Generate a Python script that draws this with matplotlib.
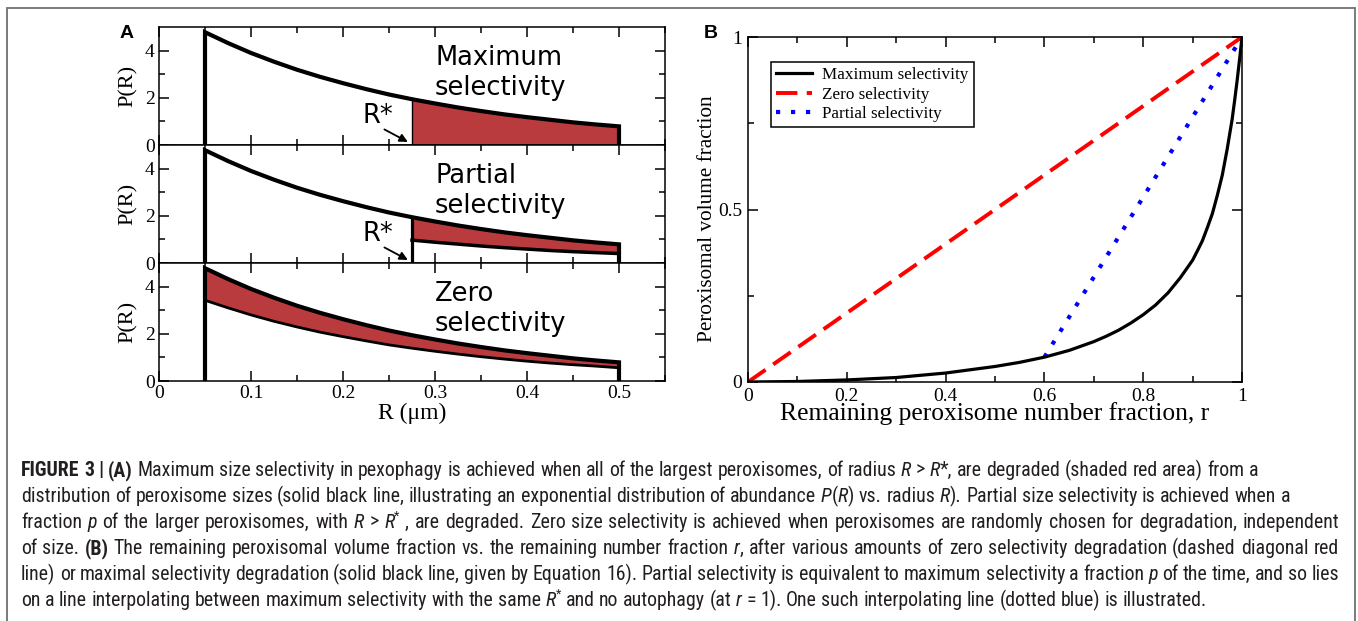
import os
import re
import matplotlib
matplotlib.use('Agg')
import matplotlib.pyplot as plt
from matplotlib import font_manager
from matplotlib.font_manager import FontProperties
from matplotlib.patches import Rectangle

W, H, DPI = 1358, 621, 100

# ---------------- Panel A data ----------------
R_vals = [0.05, 0.075, 0.1, 0.125, 0.15, 0.175, 0.2, 0.225, 0.25, 0.275,
          0.3, 0.325, 0.35, 0.375, 0.4, 0.425, 0.45, 0.475, 0.5]
P_vals = [4.78, 4.32, 3.90, 3.53, 3.19, 2.89, 2.62, 2.37, 2.14, 1.94,
          1.76, 1.59, 1.44, 1.30, 1.18, 1.07, 0.96, 0.87, 0.79]
R_star = 0.275
partial_lower = [0.97, 0.88, 0.80, 0.72, 0.65, 0.59, 0.53, 0.48, 0.44, 0.40]
zero_lower = [3.42, 3.10, 2.80, 2.53, 2.29, 2.07, 1.88, 1.70, 1.53, 1.39,
              1.26, 1.14, 1.03, 0.93, 0.84, 0.76, 0.69, 0.63, 0.56]
panelA_titles = ["Maximum\nselectivity", "Partial\nselectivity", "Zero\nselectivity"]
xticks_A = [0, 0.1, 0.2, 0.3, 0.4, 0.5]
xticklabels_A = ["0", "0.1", "0.2", "0.3", "0.4", "0.5"]
yticks_A = [0, 2, 4]
yticklabels_A = ["0", "2", "4"]

# ---------------- Panel B data ----------------
r_vals = [0.0, 0.1, 0.2, 0.3, 0.4, 0.5, 0.55, 0.6, 0.65, 0.7, 0.725, 0.75,
          0.775, 0.8, 0.825, 0.85, 0.875, 0.9, 0.91, 0.92, 0.93, 0.94, 0.95,
          0.96, 0.97, 0.98, 0.985, 0.99, 0.995, 1.0]
vmax_vals = [0.0, 0.0015, 0.006, 0.013, 0.026, 0.045, 0.057, 0.072, 0.0915,
             0.117, 0.1325, 0.150, 0.171, 0.195, 0.223, 0.258, 0.302, 0.353,
             0.381, 0.410, 0.448, 0.488, 0.541, 0.599, 0.675, 0.761, 0.815,
             0.872, 0.934, 1.0]
zero_r = [0.0, 1.0]
zero_v = [0.0, 1.0]
partial_r = [0.6, 1.0]
partial_v = [0.072, 1.0]
legend_labels = ["Maximum selectivity", "Zero selectivity", "Partial selectivity"]
xticks_B = [0, 0.2, 0.4, 0.6, 0.8, 1.0]
xticklabels_B = ["0", "0.2", "0.4", "0.6", "0.8", "1"]
yticks_B = [0, 0.5, 1.0]
yticklabels_B = ["0", "0.5", "1"]

# ---------------- Caption ----------------
caption_lines = [
    [("FIGURE 3 | (A)", "b"), (" Maximum size selectivity in pexophagy is achieved when all of the largest peroxisomes, of radius ", "n"),
     ("R", "i"), (" > ", "n"), ("R", "i"), ("*, are degraded (shaded red area) from a", "n")],
    [("distribution of peroxisome sizes (solid black line, illustrating an exponential distribution of abundance ", "n"),
     ("P", "i"), ("(", "n"), ("R", "i"), (") vs. radius ", "n"), ("R", "i"), ("). Partial size selectivity is achieved when a", "n")],
    [("fraction ", "n"), ("p", "i"), (" of the larger peroxisomes, with ", "n"), ("R", "i"), (" > ", "n"), ("R", "i"), ("*", "sup"),
     (" , are degraded. Zero size selectivity is achieved when peroxisomes are randomly chosen for degradation, independent", "n")],
    [("of size. ", "n"), ("(B)", "b"), (" The remaining peroxisomal volume fraction vs. the remaining number fraction ", "n"), ("r", "i"),
     (", after various amounts of zero selectivity degradation (dashed diagonal red", "n")],
    [("line) or maximal selectivity degradation (solid black line, given by Equation 16). Partial selectivity is equivalent to maximum selectivity a fraction ", "n"),
     ("p", "i"), (" of the time, and so lies", "n")],
    [("on a line interpolating between maximum selectivity with the same ", "n"), ("R", "i"), ("*", "sup"),
     (" and no autophagy (at ", "n"), ("r", "i"), (" = 1). One such interpolating line (dotted blue) is illustrated.", "n")],
]
justify_lines = [False, False, True, True, True, False]

RED_FILL = "#b93b3d"
SERIF = "Liberation Serif"
SANS = "DejaVu Sans"

plt.rcParams['font.family'] = [SERIF, 'DejaVu Serif']
plt.rcParams['font.serif'] = [SERIF, 'DejaVu Serif']
plt.rcParams['mathtext.fontset'] = 'custom'
plt.rcParams['mathtext.rm'] = SERIF
plt.rcParams['mathtext.it'] = SERIF + ':italic'
plt.rcParams['mathtext.bf'] = SERIF + ':bold'
plt.rcParams['mathtext.default'] = 'regular'
plt.rcParams['axes.formatter.use_mathtext'] = False


def tick_fp(size=14):
    return FontProperties(family=[SERIF, 'DejaVu Serif'], size=size)


fig = plt.figure(figsize=(W / DPI, H / DPI), dpi=DPI)
fig.patch.set_facecolor('white')


def px_axes(left, top, right, bottom):
    return fig.add_axes([left / W, 1 - bottom / H, (right - left) / W, (bottom - top) / H])


def style_common(ax, lw=1.1):
    for s in ax.spines.values():
        s.set_linewidth(lw)
    ax.tick_params(which='both', direction='in', top=True, right=True, width=lw,
                   labelfontfamily=SERIF)
    ax.tick_params(which='major', length=7, labelsize=14, pad=3)
    ax.tick_params(which='minor', length=4.5)


def fix_tick_fonts(ax):
    for tk in ax.xaxis.get_major_ticks() + ax.yaxis.get_major_ticks():
        for lab in (tk.label1, tk.label2):
            lab.set_fontproperties(tick_fp())


# ---------------- Panel A ----------------
a_left, a_right, a_top, a_bottom = 159, 665, 27, 381
h_each = (a_bottom - a_top) / 3
axesA = []
for i in range(3):
    t = a_top + i * h_each
    ax = px_axes(a_left, t, a_right, t + h_each)
    axesA.append(ax)
    ax.set_xlim(0, 0.55)
    ax.set_ylim(0, 5)
    ax.set_xticks(xticks_A)
    ax.set_xticks([0.05, 0.15, 0.25, 0.35, 0.45, 0.55], minor=True)
    ax.set_yticks(yticks_A)
    ax.set_yticks([1, 3], minor=True)
    style_common(ax)
    ax.set_yticklabels(yticklabels_A)
    if i < 2:
        ax.set_xticklabels([])
    else:
        ax.set_xticklabels(xticklabels_A)
    fix_tick_fonts(ax)
    ax.set_ylabel("P(R)", fontsize=16, fontfamily=SERIF)
    ax.yaxis.set_label_coords((128 - a_left) / (a_right - a_left), 0.5)
    ax.yaxis.label.set_va('center')
    ax.text(0.30, 3.05, panelA_titles[i], family=SANS, fontsize=18.5,
            ha='left', va='center', linespacing=1.2)

sel_idx = [k for k, r in enumerate(R_vals) if r >= R_star]
R_sel = [R_vals[k] for k in sel_idx]
P_sel = [P_vals[k] for k in sel_idx]
outline_x = [R_vals[0]] + R_vals + [R_vals[-1]]
outline_y = [0] + P_vals + [0]

# Maximum selectivity
ax = axesA[0]
ax.fill_between(R_sel, 0, P_sel, facecolor=RED_FILL, edgecolor='black', linewidth=1.0, zorder=2)
ax.plot(outline_x, outline_y, color='black', lw=3.0, solid_joinstyle='miter', zorder=3)

# Partial selectivity
ax = axesA[1]
ax.fill_between(R_sel, partial_lower, P_sel, facecolor=RED_FILL, edgecolor='none', zorder=2)
ax.plot(R_sel, partial_lower, color='black', lw=2.5, zorder=3)
ax.plot([R_star, R_star], [0, P_sel[0]], color='black', lw=2.3, zorder=3)
ax.plot(outline_x, outline_y, color='black', lw=3.0, solid_joinstyle='miter', zorder=3)

# Zero selectivity
ax = axesA[2]
ax.fill_between(R_vals, zero_lower, P_vals, facecolor=RED_FILL, edgecolor='none', zorder=2)
ax.plot(R_vals, zero_lower, color='black', lw=2.0, zorder=3)
ax.plot(outline_x, outline_y, color='black', lw=3.0, solid_joinstyle='miter', zorder=3)
ax.set_xlabel("R (\u03bcm)", fontsize=17, fontfamily=SERIF)
ax.xaxis.set_label_coords(0.5, (a_bottom - 413) / h_each)
ax.xaxis.label.set_va('center')

for ax in axesA[:2]:
    ax.text(0.238, 1.22, "R*", family=SANS, fontsize=18.5, ha='center', va='center')
    ax.annotate("", xy=(0.2705, 0.13), xytext=(0.245, 0.66),
                arrowprops=dict(arrowstyle='-|>', color='black', lw=1.3,
                                mutation_scale=12, shrinkA=0, shrinkB=0))

fig.text(127 / W, 1 - 33 / H, "A", family='Liberation Sans', fontweight='bold',
         fontsize=14, ha='center', va='center')

# ---------------- Panel B ----------------
b_left, b_right, b_top, b_bottom = 748, 1242, 37, 382
axB = px_axes(b_left, b_top, b_right, b_bottom)
axB.set_xlim(0, 1)
axB.set_ylim(0, 1)
axB.set_xticks(xticks_B)
axB.set_xticks([0.1, 0.3, 0.5, 0.7, 0.9], minor=True)
axB.set_yticks(yticks_B)
axB.set_yticks([0.25, 0.75], minor=True)
style_common(axB)
axB.set_xticklabels(xticklabels_B)
axB.set_yticklabels(yticklabels_B)
axB.tick_params(which='major', pad=4)
fix_tick_fonts(axB)

l1, = axB.plot(r_vals, vmax_vals, color='black', lw=2.3, zorder=3)
l2, = axB.plot(zero_r, zero_v, color='#ff0000', lw=2.8, linestyle=(0, (5.5, 2.4)), zorder=2)
l3, = axB.plot(partial_r, partial_v, color='#0000ff', lw=3.0, linestyle=(0, (1.0, 2.6)), zorder=2)

leg = axB.legend([l1, l2, l3], legend_labels, loc='upper left',
                 bbox_to_anchor=((771 - b_left) / (b_right - b_left), (b_bottom - 62) / (b_bottom - b_top)),
                 prop={'family': SERIF, 'size': 12.3}, frameon=True, fancybox=False,
                 edgecolor='black', framealpha=1, borderpad=0.3, handlelength=2.1,
                 handletextpad=0.6, labelspacing=0.2, borderaxespad=0)
leg.get_frame().set_linewidth(1.1)

axB.set_xlabel("Remaining peroxisome number fraction, r", fontsize=18.4, fontfamily=SERIF)
axB.xaxis.set_label_coords(0.5, (b_bottom - 414) / (b_bottom - b_top))
axB.xaxis.label.set_va('center')
axB.set_ylabel("Peroxisomal volume fraction", fontsize=15.3, fontfamily=SERIF)
axB.yaxis.set_label_coords((708 - b_left) / (b_right - b_left), (b_bottom - 219) / (b_bottom - b_top))
axB.yaxis.label.set_va('center')

fig.text(711 / W, 1 - 33 / H, "B", family='Liberation Sans', fontweight='bold',
         fontsize=14, ha='center', va='center')

# ---------------- border ----------------
fig.patches.append(Rectangle((7 / W, -0.2), (1355 - 7) / W, 1.2 - 8 / H,
                             transform=fig.transFigure, fill=False,
                             edgecolor='#707070', linewidth=1.3, clip_on=False))


# ---------------- caption ----------------
def norm(s):
    return re.sub(r'[^a-z]', '', s.lower())


def find_condensed_family():
    for pref in ['liberationsansnarrow', 'robotocondensed', 'notosanscondensed',
                 'opensanscondensed', 'arialnarrow']:
        for e in font_manager.fontManager.ttflist:
            b = norm(os.path.splitext(os.path.basename(e.fname))[0])
            if b.startswith(pref) and norm(e.name).startswith(pref[:6]):
                return e.name
    return 'Liberation Sans'


CAP_FAMILY = find_condensed_family()
renderer = fig.canvas.get_renderer()
CAP_COLOR = '#231f20'


def seg_props(style, size):
    fp = FontProperties(family=[CAP_FAMILY, 'Liberation Sans'], size=size)
    if style == 'b':
        fp.set_weight('bold')
    elif style == 'i':
        fp.set_style('italic')
    elif style == 'sup':
        fp.set_size(size * 0.62)
    return fp


def text_w(txt, fp):
    w1, _, _ = renderer.get_text_width_height_descent('|' + txt + '|', fp, ismath=False)
    w0, _, _ = renderer.get_text_width_height_descent('||', fp, ismath=False)
    return w1 - w0


def tokenize(segs):
    """Split a line into words (lists of styled pieces) and space counts after them."""
    chars = []
    for txt, sty in segs:
        for ch in txt:
            chars.append((ch, sty))
    words = []
    cur = []
    i = 0
    while i < len(chars):
        ch, sty = chars[i]
        if ch == ' ':
            n = 0
            while i < len(chars) and chars[i][0] == ' ':
                n += 1
                i += 1
            words.append((cur, n))
            cur = []
            continue
        if cur and cur[-1][1] == sty:
            cur[-1] = (cur[-1][0] + ch, sty)
        else:
            cur.append((ch, sty))
        i += 1
    if cur:
        words.append((cur, 0))
    return words


def layout_width(words, size):
    sp = text_w(' ', seg_props('n', size))
    total = 0.0
    nsp = 0
    for pieces, n in words:
        for txt, sty in pieces:
            total += text_w(txt, seg_props(sty, size))
        total += n * sp
        nsp += n
    return total, nsp, sp


LEFT, RIGHT = 21.0, 1339.0
tokenized = [tokenize(l) for l in caption_lines]
base = 10.0
w1, _, _ = layout_width(tokenized[0], base)
w6, _, _ = layout_width(tokenized[5], base)
cap_size = base * 0.5 * ((1303 - LEFT) / w1 + (1232 - LEFT) / w6)
for words, just in zip(tokenized, justify_lines):
    if just:
        wn, _, _ = layout_width(words, base)
        cap_size = min(cap_size, base * (RIGHT - LEFT) / wn)

baselines = [476, 502, 528, 554, 580, 606]
for words, yb, just in zip(tokenized, baselines, justify_lines):
    natural, nsp, sp = layout_width(words, cap_size)
    extra = (RIGHT - LEFT - natural) / nsp if (just and nsp) else 0.0
    x = LEFT
    for pieces, n in words:
        for txt, sty in pieces:
            fp = seg_props(sty, cap_size)
            dy = cap_size * 0.42 * DPI / 72 if sty == 'sup' else 0
            fig.text(x / W, 1 - (yb - dy) / H, txt, fontproperties=fp, color=CAP_COLOR,
                     ha='left', va='baseline')
            x += text_w(txt, fp)
        x += n * (sp + extra)

fig.savefig('out.png', dpi=DPI, facecolor='white')
